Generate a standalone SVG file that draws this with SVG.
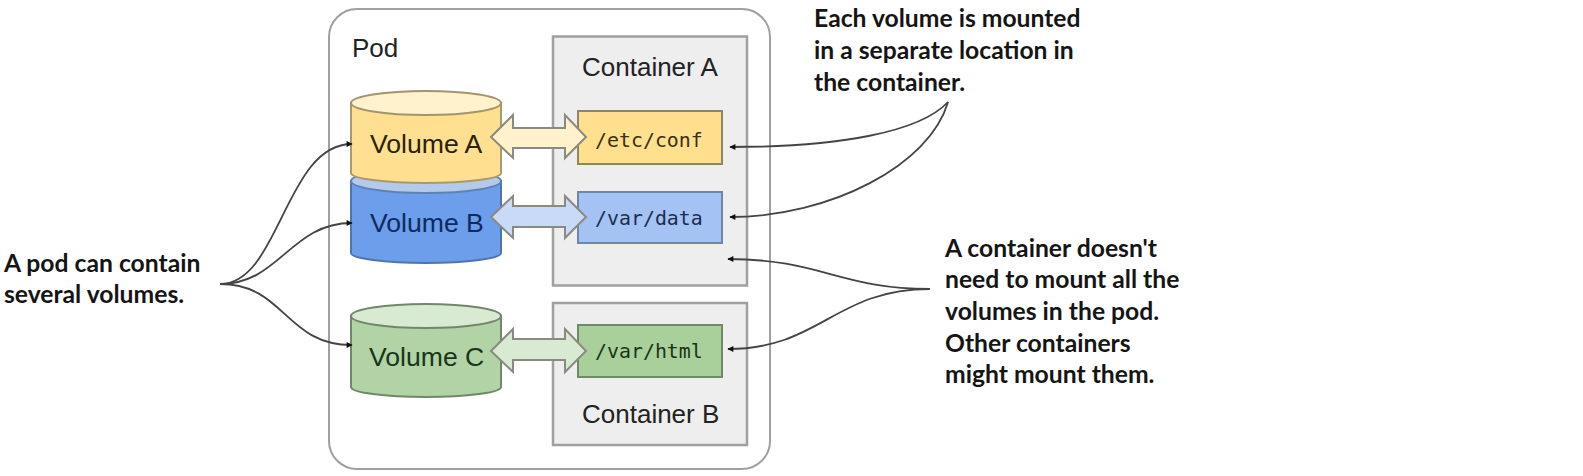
<svg xmlns="http://www.w3.org/2000/svg" width="1583" height="476" viewBox="0 0 1583 476">
<defs>
<marker id="dot" viewBox="0 0 10 10" refX="9" refY="5" markerWidth="7" markerHeight="6" markerUnits="userSpaceOnUse" orient="auto"><path d="M0,0 L10,5 L0,10 Z" fill="#111"/></marker>
</defs>
<style>
.sans{font-family:"Liberation Sans",Arial,sans-serif;font-size:26px;fill:#222}
.vol{font-size:26.6px}
.mono{font-family:"DejaVu Sans Mono",monospace;font-size:19.9px;fill:#333}
.note{font-family:Lato,"Noto Sans",sans-serif;font-weight:700;font-size:24.7px;fill:#151515}
.cont{fill:#eeeeee;stroke:#a0a0a0;stroke-width:2.5}
.conn{fill:none;stroke:#444;stroke-width:1.8;marker-end:url(#dot)}
.arrow{stroke:#8a8a80;stroke-width:2}
</style>
<rect width="1583" height="476" fill="#fff"/>
<g id="pod"><rect x="329" y="9" width="441" height="460" rx="28" fill="#fff" stroke="#a0a0a0" stroke-width="2"/><text class="sans" x="352" y="57">Pod</text></g>
<g id="container-a"><rect class="cont" x="553" y="36.500" width="194" height="249"/><text class="sans" x="582" y="76">Container A</text></g>
<g id="container-b"><rect class="cont" x="553" y="303" width="194" height="142"/><text class="sans" x="582" y="423">Container B</text></g>
<g id="volume-b"><path d="M351,181 V253 A75,10 0 0 0 501,253 V181 Z" fill="#6d9eeb" stroke="#4f75ad" stroke-width="2"/><ellipse cx="426" cy="181" rx="75" ry="12" fill="#b5c9ea" stroke="#5f82b5" stroke-width="2"/><text class="sans vol" x="370" y="232" style="fill:#0f2a5f">Volume B</text></g>
<g id="volume-a"><path d="M351,103 V173 A75,10 0 0 0 501,173 V103 Z" fill="#ffdf90" stroke="#a89a70" stroke-width="2"/><ellipse cx="426" cy="103" rx="75" ry="12" fill="#fff2cc" stroke="#a3946c" stroke-width="2"/><text class="sans vol" x="370" y="153" style="fill:#2a2208">Volume A</text></g>
<g id="volume-c"><path d="M351,316 V387 A75,10 0 0 0 501,387 V316 Z" fill="#b2d3a5" stroke="#71876b" stroke-width="2"/><ellipse cx="426" cy="316" rx="75" ry="12" fill="#d9ead3" stroke="#71876b" stroke-width="2"/><text class="sans vol" x="369" y="366" style="fill:#17361a">Volume C</text></g>
<g id="mount-etc-conf"><rect x="578" y="111" width="144" height="53" fill="#ffe08f" stroke="#8f8468" stroke-width="2"/><text class="mono" x="595" y="147" style="fill:#3a2f10">/etc/conf</text></g>
<g id="mount-var-data"><rect x="578" y="192" width="144" height="51" fill="#a4c2f4" stroke="#6f86a8" stroke-width="2"/><text class="mono" x="595" y="225" style="fill:#1c2d4d">/var/data</text></g>
<g id="mount-var-html"><rect x="578" y="325" width="144" height="52" fill="#a9d09a" stroke="#6f8a68" stroke-width="2"/><text class="mono" x="595" y="358" style="fill:#1a3318">/var/html</text></g>
<g id="connectors">
<path class="arrow" fill="#fff2cc" d="M491,137 L513,115 V128 H565 V115 L586,137 L565,158 V148 H513 V158 Z"/>
<path class="arrow" fill="#c9daf8" d="M491,217 L513,196 V206 H565 V196 L586,217 L565,238 V227 H513 V238 Z"/>
<path class="arrow" fill="#d9ead3" d="M491,351 L513,329 V339 H565 V329 L586,351 L565,372 V360 H513 V372 Z"/>
<path class="conn" d="M220,284 C280,284 285,144 352,144"/>
<path class="conn" d="M220,284 C280,284 290,223 352,223"/>
<path class="conn" d="M220,284 C285,284 285,345 352,345"/>
<path class="conn" d="M948,102 C920,132 840,147 730,147"/>
<path class="conn" d="M948,102 C930,165 830,217 730,217"/>
<path class="conn" d="M930,289 C840,289 820,259 728,259"/>
<path class="conn" d="M930,289 C835,289 820,349 728,349"/>
</g>
<g id="note-left"><text class="note" x="4" y="272">A pod can contain</text><text class="note" x="4" y="303">several volumes.</text></g>
<g id="note-top"><text class="note" x="814" y="27">Each volume is mounted</text><text class="note" x="814" y="59">in a separate location in</text><text class="note" x="814" y="91">the container.</text></g>
<g id="note-right"><text class="note" x="945" y="257">A container doesn't</text><text class="note" x="945" y="288">need to mount all the</text><text class="note" x="945" y="320">volumes in the pod.</text><text class="note" x="945" y="352">Other containers</text><text class="note" x="945" y="383">might mount them.</text></g>
</svg>
